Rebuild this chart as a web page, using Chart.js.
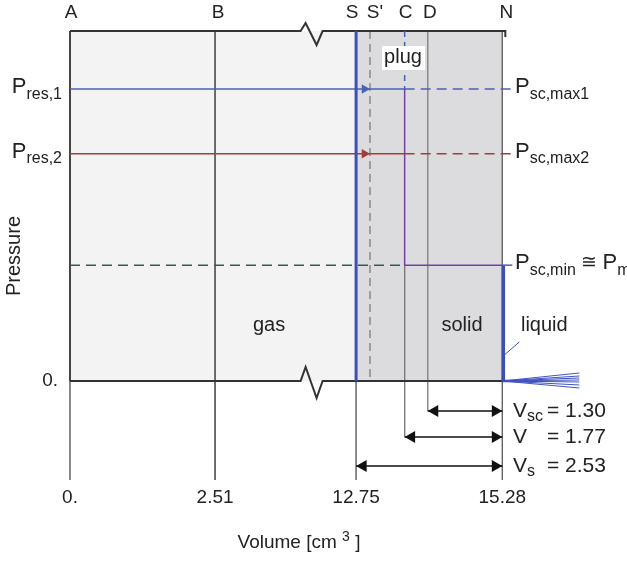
<!DOCTYPE html>
<html>
<head>
<meta charset="utf-8">
<script src="https://cdn.jsdelivr.net/npm/chart.js@4.4.0/dist/chart.umd.min.js"></script>
<style>
  html, body { margin: 0; padding: 0; background: #fff; }
  #wrap { width: 627px; height: 561px; }
</style>
</head>
<body>
<div id="wrap"><canvas id="pvChart"></canvas></div>
<script>
// volumes on the (broken) x axis, cm3
var volumeTicks = [0, 2.51, 12.75, 15.28];
var markNames   = ['A', 'B', 'S', "S'", 'C', 'D', 'N'];
var markVolumes = [0, 2.51, 12.75, 12.99, 13.59, 13.99, 15.28];
// pressures, schematic units (box goes 0 .. pTop)
var pTop   = 10;
var pRes   = [8.34, 6.49];
var pScMin = 3.31;
// volume spans drawn under the box
var spanNames  = ['sc', '', 's'];
var spanValues = [1.30, 1.77, 2.53];
var spanFrom   = ['D', 'C', 'S'];

var X_MIN = -1.211, X_MAX = 9.637, Y_MIN = -5.143, Y_MAX = 10.886;
var ux = (X_MAX - X_MIN) / 627, uy = (Y_MAX - Y_MIN) / 561;   // units per pixel
var FONT = '"Liberation Sans", Arial, sans-serif';

// the axis is cut between 2.51 and 12.75
function cx(v) { return v >= 12.75 ? v - 7.8 : v; }
function at(name) { return cx(markVolumes[markNames.indexOf(name)]); }

var xA = at('A'), xB = at('B'), xS = at('S'), xS2 = at("S'"), xC = at('C'), xD = at('D'), xN = at('N');
var brk = 3.99;
var low = -99 * uy;
var spanLevels = [-30 * uy, -56 * uy, -85 * uy];

var BLUE = '#3c4fb2', BLUE_L = '#4862b6', RED = '#a63c3a', GREEN = '#2f5e50', PURPLE = '#7440a2';

var sets = [];
function line(pts, color, w, dash, order) {
  sets.push({
    data: pts.map(function (p) { return { x: p[0], y: p[1] }; }),
    showLine: true, borderColor: color, borderWidth: w, borderDash: dash || [],
    pointRadius: 0, pointHoverRadius: 0, fill: false, tension: 0, order: order || 5
  });
}
function area(x0, x1, color) {
  sets.push({
    data: [{ x: x0, y: pTop }, { x: x1, y: pTop }], showLine: true,
    borderColor: 'rgba(0,0,0,0)', borderWidth: 1, backgroundColor: color, fill: 'origin',
    pointRadius: 0, pointHoverRadius: 0, order: 30
  });
}
function head(x, y, dir, color, r) {
  // tip of the triangle lands on x
  sets.push({
    data: [{ x: x - dir * r * ux, y: y }], showLine: false, pointStyle: 'triangle',
    pointRotation: dir > 0 ? 90 : 270, pointRadius: r, pointHoverRadius: r,
    pointBackgroundColor: color, pointBorderWidth: 0, order: 1
  });
}

area(xA, xS, '#f3f3f3');
area(xS, xN, '#dcdcde');

// thin vertical guides
line([[xB, pTop], [xB, low]], '#5a5a5a', 1, null, 10);
line([[xA, 0], [xA, low]], '#7a7a7a', 1, null, 10);
line([[xS, 0], [xS, low]], '#7a7a7a', 1, null, 10);
line([[xN, pTop], [xN, low]], '#666', 1, null, 10);
line([[xD, pTop], [xD, spanLevels[0]]], '#8a8a8a', 1.5, null, 10);
line([[xC, pScMin], [xC, spanLevels[1]]], '#7a7a7a', 1, null, 10);
line([[xS2, pTop], [xS2, 0]], '#8a8a8a', 1.5, [8, 5], 10);

// box border with the break marks
line([[xA, pTop], [brk, pTop], [brk + 5 * ux, pTop + 8 * uy], [brk + 16 * ux, pTop - 14 * uy],
      [brk + 22 * ux, pTop], [xN + 3 * ux, pTop], [xN + 3 * ux, pTop - 6 * uy]], '#333', 2, null, 6);
line([[xA, 0], [brk, 0], [brk + 5 * ux, 14 * uy], [brk + 16 * ux, -17 * uy],
      [brk + 22 * ux, 0], [xN, 0]], '#333', 2, null, 6);
line([[xA, 0], [xA, pTop]], '#444', 2, null, 6);

// piston S
line([[xS, 0], [xS, pTop]], BLUE, 3);

// reservoir pressures
line([[xA, pRes[0]], [xC, pRes[0]]], BLUE_L, 1.5);
line([[xC, pRes[0]], [xN + 10 * ux, pRes[0]]], BLUE_L, 1.5, [10, 6]);
line([[xC, pTop], [xC, pRes[0]]], BLUE_L, 1.5, [6, 5]);
line([[xA, pRes[1]], [xC, pRes[1]]], RED, 1.5);
line([[xC, pRes[1]], [xN + 10 * ux, pRes[1]]], RED, 1.5, [10, 6]);
line([[xC, pRes[0]], [xC, pScMin], [xN, pScMin]], PURPLE, 1.5);
line([[xA, pScMin], [xC, pScMin]], GREEN, 1.5, [10, 6]);
line([[xN, pScMin], [xN + 10 * ux, pScMin]], BLUE_L, 1.5);
head(xS2, pRes[0], 1, BLUE_L, 5.5);
head(xS2, pRes[1], 1, RED, 5.5);

// liquid column and outflow fan
line([[xN + 1 * ux, 0], [xN + 1 * ux, pScMin]], BLUE, 3.5);
line([[xN + 2 * ux, 26 * uy], [xN + 17 * ux, 39 * uy]], BLUE, 1);
[8, 5, 3, 1, -1, -4, -7].forEach(function (e) {
  line([[xN, 0], [xN + 77 * ux, e * uy]], '#4354c0', 1);
});
line([[xN, 0], [xN + 35 * ux, 0]], BLUE, 2.5);

// volume spans
spanFrom.forEach(function (name, i) {
  line([[at(name), spanLevels[i]], [xN, spanLevels[i]]], '#111', 1.5);
  head(at(name), spanLevels[i], -1, '#111', 7);
  head(xN, spanLevels[i], 1, '#111', 7);
});

function runs(ctx, x, y, parts, align) {
  var w = 0;
  parts.forEach(function (p) { ctx.font = p[1] + 'px ' + FONT; w += ctx.measureText(p[0]).width; });
  var cur = align === 'right' ? x - w : align === 'center' ? x - w / 2 : x;
  ctx.textAlign = 'left';
  ctx.textBaseline = 'middle';
  parts.forEach(function (p) {
    ctx.font = p[1] + 'px ' + FONT;
    ctx.fillText(p[0], cur, y + (p[2] || 0));
    cur += ctx.measureText(p[0]).width;
  });
}

var labelsPlugin = {
  id: 'labels',
  afterDatasetsDraw: function (chart) {
    var ctx = chart.ctx, xs = chart.scales.x, ys = chart.scales.y;
    var X = function (v) { return xs.getPixelForValue(v); };
    var Y = function (p) { return ys.getPixelForValue(p); };
    ctx.save();
    ctx.fillStyle = '#222';

    var shift = [1, 3, -4, 5, 1, 2, 4];
    markNames.forEach(function (n, i) {
      runs(ctx, X(cx(markVolumes[i])) + shift[i], 13, [[n, 19]], 'center');
    });

    ['res,1', 'res,2'].forEach(function (s, i) {
      runs(ctx, 62, Y(pRes[i]), [['P', 22, -2], [s, 16, 5]], 'right');
    });
    ['sc,max1', 'sc,max2'].forEach(function (s, i) {
      runs(ctx, 515, Y(pRes[i]), [['P', 22, -2], [s, 16, 5]], 'left');
    });
    runs(ctx, 515, Y(pScMin), [['P', 22, -2], ['sc,min', 16, 5], [' \u2245 ', 19, -2], ['P', 22, -2], ['m', 16, 5]], 'left');
    runs(ctx, 58, Y(0), [['0.', 19]], 'right');

    volumeTicks.forEach(function (v) {
      runs(ctx, X(cx(v)), Y(0) + 117, [[v === 0 ? '0.' : v.toFixed(2), 19]], 'center');
    });
    runs(ctx, 299, 543, [['Volume [cm ', 19], ['3', 14, -6], [' ]', 19]], 'center');

    ctx.save();
    ctx.translate(14, 256);
    ctx.rotate(-Math.PI / 2);
    runs(ctx, 0, 0, [['Pressure', 20]], 'center');
    ctx.restore();

    runs(ctx, X(xS) - 87, Y(1.6), [['gas', 20]], 'center');
    runs(ctx, (X(xD) + X(xN)) / 2 - 3, Y(1.6), [['solid', 20]], 'center');
    runs(ctx, X(xN) + 42, Y(1.6), [['liquid', 20]], 'center');

    ctx.fillStyle = '#fff';
    ctx.fillRect(382, 46, 43, 24);
    ctx.fillStyle = '#222';
    runs(ctx, 403, 57, [['plug', 20]], 'center');

    spanNames.forEach(function (s, i) {
      var y = Y(spanLevels[i]) + 1;
      runs(ctx, 513, y, [['V', 21, -1], [s, 16, 5]], 'left');
      runs(ctx, 547, y, [['= ' + spanValues[i].toFixed(2), 21, -1]], 'left');
    });
    ctx.restore();
  }
};

new Chart(document.getElementById('pvChart').getContext('2d'), {
  type: 'scatter',
  data: { datasets: sets },
  options: {
    responsive: true,
    maintainAspectRatio: false,
    animation: false,
    events: [],
    layout: { padding: 0, autoPadding: false },
    plugins: { legend: { display: false }, tooltip: { enabled: false } },
    scales: {
      x: { type: 'linear', display: false, min: X_MIN, max: X_MAX },
      y: { type: 'linear', display: false, min: Y_MIN, max: Y_MAX }
    }
  },
  plugins: [labelsPlugin]
});
</script>
</body>
</html>
